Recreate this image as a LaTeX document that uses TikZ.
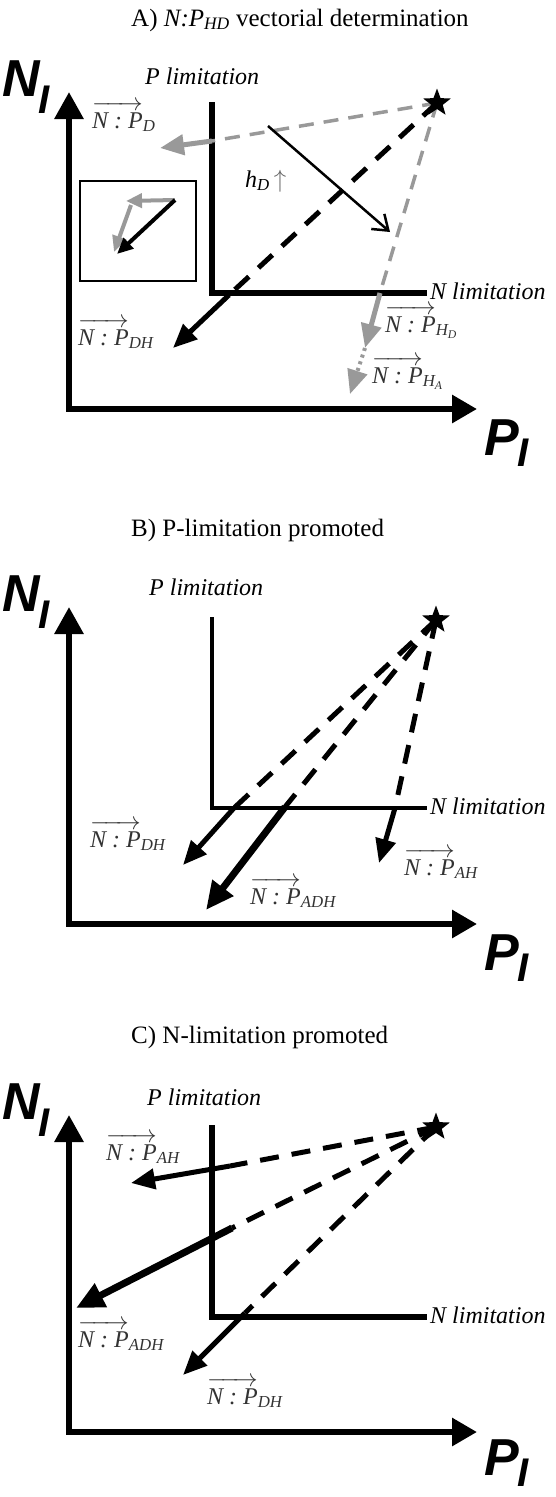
\documentclass[tikz,border=0pt]{standalone}
\usepackage{fontspec}
\setmainfont{Liberation Serif}
\newfontfamily\axisfont{Liberation Sans}
\usetikzlibrary{arrows.meta,shapes.geometric,positioning}

\newcommand{\npvec}[1]{$\overrightarrow{\hbox{\rule{0pt}{19pt}\itshape N : P}}$\textsubscript{\itshape #1}}

\begin{document}
\begin{tikzpicture}[x=1pt, y=-1pt,
    axisline/.style={line width=6pt, {Triangle[length=27pt,width=28pt]}-{Triangle[length=25pt,width=27pt]}},
    limline/.style={line width=6pt},
    paneltitle/.style={font=\fontsize{25}{28}\selectfont, anchor=base west, inner sep=0},
    axlab/.style={font=\axisfont\bfseries\itshape\fontsize{52}{52}\selectfont, anchor=base west, inner sep=0},
    axsub/.style={font=\axisfont\bfseries\itshape\fontsize{40}{40}\selectfont, anchor=base west, inner sep=0},
    lim/.style={font=\itshape\fontsize{24}{26}\selectfont, anchor=base west, inner sep=0},
    npratio/.style={font=\fontsize{24}{26}\selectfont, text=black!80, anchor=base west, inner sep=0},
    sun/.style={star, star points=5, star point ratio=2.4, fill, minimum size=29pt, inner sep=0},
    dashblk/.style={line width=5pt, dash pattern=on 19pt off 13pt},
    dashgry/.style={line width=3.5pt, draw=black!40, dash pattern=on 15pt off 10pt},
    vec/.style={line width=5pt, -{Triangle[length=24pt,width=20pt]}},
    bigvec/.style={line width=7pt, -{Triangle[length=28pt,width=25pt]}},
    gryvec/.style={vec, draw=black!40},
    minivec/.style={line width=4pt, -{Triangle[length=16pt,width=14pt]}}
]
\useasboundingbox (0,0) rectangle (556,1497);

% ---------------- Panel A ----------------
\node[paneltitle] (titA) at (131,26) {A) \textit{N:P}\textsubscript{\textit{HD}} vectorial determination};

% axes
\coordinate (yA) at (69,92);
\coordinate (oA) at (69,409);
\coordinate (xA) at (477,409);
\draw[axisline] (yA) -- (oA) -- (xA);
\node[axlab] (nA) at (2,96) {N};
\node[axsub] (nsubA) at (38,113) {I};
\node[axlab] (pA) at (484,455) {P};
\node[axsub] (psubA) at (517,466) {I};

% limitation lines
\coordinate (ptopA) at (212,102);
\coordinate (cornA) at (212,293);
\coordinate (nendA) at (427,293);
\draw[limline] (ptopA) -- (cornA) -- (nendA);
\node[lim] (plimA) at (145,84) {P limitation};
\node[lim] (nlimA) at (430,299) {N limitation};

\coordinate (starA) at (437,103);

% D vector
\coordinate (dA) at (212,141);
\coordinate (dtipA) at (160,148);
\draw[dashgry] (starA) -- (dA);
\draw[gryvec] (dA) -- (dtipA);
\node[npratio] (npdA) at (92,128) {\npvec{D}};

% shift by h_D
\coordinate (hA) at (268,126);
\coordinate (htipA) at (390,232);
\draw[line width=2.5pt, -{Straight Barb[length=14pt,width=20pt]}] (hA) -- (htipA);
\node[npratio, text=black] (hdA) at (245,187) {\textit{h}\textsubscript{\textit{D}}\,{\color{black!60}$\uparrow$}};

% DH vector
\coordinate (dhA) at (229,295);
\coordinate (dhtipA) at (173,348);
\draw[dashblk] (starA) -- (dhA);
\draw[vec] (dhA) -- (dhtipA);
\node[npratio] (npdhA) at (78,345) {\npvec{DH}};

% H vectors
\coordinate (hvA) at (380,293);
\coordinate (hdtipA) at (365,348);
\coordinate (hatipA) at (350,394);
\draw[dashgry] (starA) -- (hvA);
\draw[gryvec] (hvA) -- (hdtipA);
\draw[gryvec, line width=4pt, dash pattern=on 3pt off 4pt] (hdtipA) -- (hatipA);
\node[npratio] (nphdA) at (385,332) {\npvec{H\textsubscript{D}}};
\node[npratio] (nphaA) at (372,383) {\npvec{H\textsubscript{A}}};

% inset: vector sum
\node[draw, line width=1.6pt, minimum width=116pt, minimum height=100pt, inner sep=0] (boxA) at (138,231) {};
\coordinate (i0A) at (175,200);
\coordinate (i1A) at (126,201);
\coordinate (i2A) at (131,205);
\coordinate (i3A) at (114,252);
\coordinate (i4A) at (117,254);
\draw[minivec, draw=black!40] (i0A) -- (i1A);
\draw[minivec, draw=black!40] (i2A) -- (i3A);
\draw[minivec] (i0A) -- (i4A);

\node[sun] (sunA) at (starA) {};

% ---------------- Panel B ----------------
\node[paneltitle] (titB) at (131,536) {B) P-limitation promoted};

% axes
\coordinate (yB) at (69,607);
\coordinate (oB) at (69,924);
\coordinate (xB) at (477,924);
\draw[axisline] (yB) -- (oB) -- (xB);
\node[axlab] (nB) at (2,611) {N};
\node[axsub] (nsubB) at (38,628) {I};
\node[axlab] (pB) at (484,970) {P};
\node[axsub] (psubB) at (517,981) {I};

% limitation lines
\coordinate (ptopB) at (212,617);
\coordinate (cornB) at (212,808);
\coordinate (nendB) at (427,808);
\draw[limline, line width=4pt] (ptopB) -- (cornB) -- (nendB);
\node[lim] (plimB) at (149,595) {P limitation};
\node[lim] (nlimB) at (430,814) {N limitation};

\coordinate (starB) at (436,620);

% DH vector
\coordinate (dhB) at (234,808);
\coordinate (dhtipB) at (183,865);
\draw[dashblk] (starB) -- (dhB);
\draw[vec] (dhB) -- (dhtipB);
\node[npratio] (npdhB) at (90,847) {\npvec{DH}};

% ADH vector
\coordinate (adhB) at (285,807);
\coordinate (adhtipB) at (206,910);
\draw[dashblk] (starB) -- (adhB);
\draw[bigvec] (adhB) -- (adhtipB);
\node[npratio] (npadhB) at (250,904) {\npvec{ADH}};

% AH vector
\coordinate (ahB) at (395,808);
\coordinate (ahtipB) at (379,863);
\draw[dashblk] (starB) -- (ahB);
\draw[vec] (ahB) -- (ahtipB);
\node[npratio] (npahB) at (404,875) {\npvec{AH}};

\node[sun] (sunB) at (starB) {};

% ---------------- Panel C ----------------
\node[paneltitle] (titC) at (131,1043) {C) N-limitation promoted};

% axes
\coordinate (yC) at (69,1115);
\coordinate (oC) at (69,1432);
\coordinate (xC) at (477,1432);
\draw[axisline] (yC) -- (oC) -- (xC);
\node[axlab] (nC) at (2,1119) {N};
\node[axsub] (nsubC) at (38,1136) {I};
\node[axlab] (pC) at (484,1475) {P};
\node[axsub] (psubC) at (517,1486) {I};

% limitation lines
\coordinate (ptopC) at (212,1125);
\coordinate (cornC) at (212,1317);
\coordinate (nendC) at (427,1317);
\draw[limline] (ptopC) -- (cornC) -- (nendC);
\node[lim] (plimC) at (147,1105) {P limitation};
\node[lim] (nlimC) at (430,1323) {N limitation};

\coordinate (starC) at (436,1127);

% AH vector
\coordinate (ahC) at (230,1166);
\coordinate (ahtipC) at (131,1183);
\draw[dashblk] (starC) -- (ahC);
\draw[vec] (ahC) -- (ahtipC);
\node[npratio] (npahC) at (106,1160) {\npvec{AH}};

% ADH vector
\coordinate (adhC) at (232,1228);
\coordinate (adhtipC) at (76,1308);
\draw[dashblk] (starC) -- (adhC);
\draw[bigvec] (adhC) -- (adhtipC);
\node[npratio] (npadhC) at (78,1347) {\npvec{ADH}};

% DH vector
\coordinate (dhC) at (245,1313);
\coordinate (dhtipC) at (183,1375);
\draw[dashblk] (starC) -- (dhC);
\draw[vec] (dhC) -- (dhtipC);
\node[npratio] (npdhC) at (207,1404) {\npvec{DH}};

\node[sun] (sunC) at (starC) {};
\end{tikzpicture}
\end{document}
